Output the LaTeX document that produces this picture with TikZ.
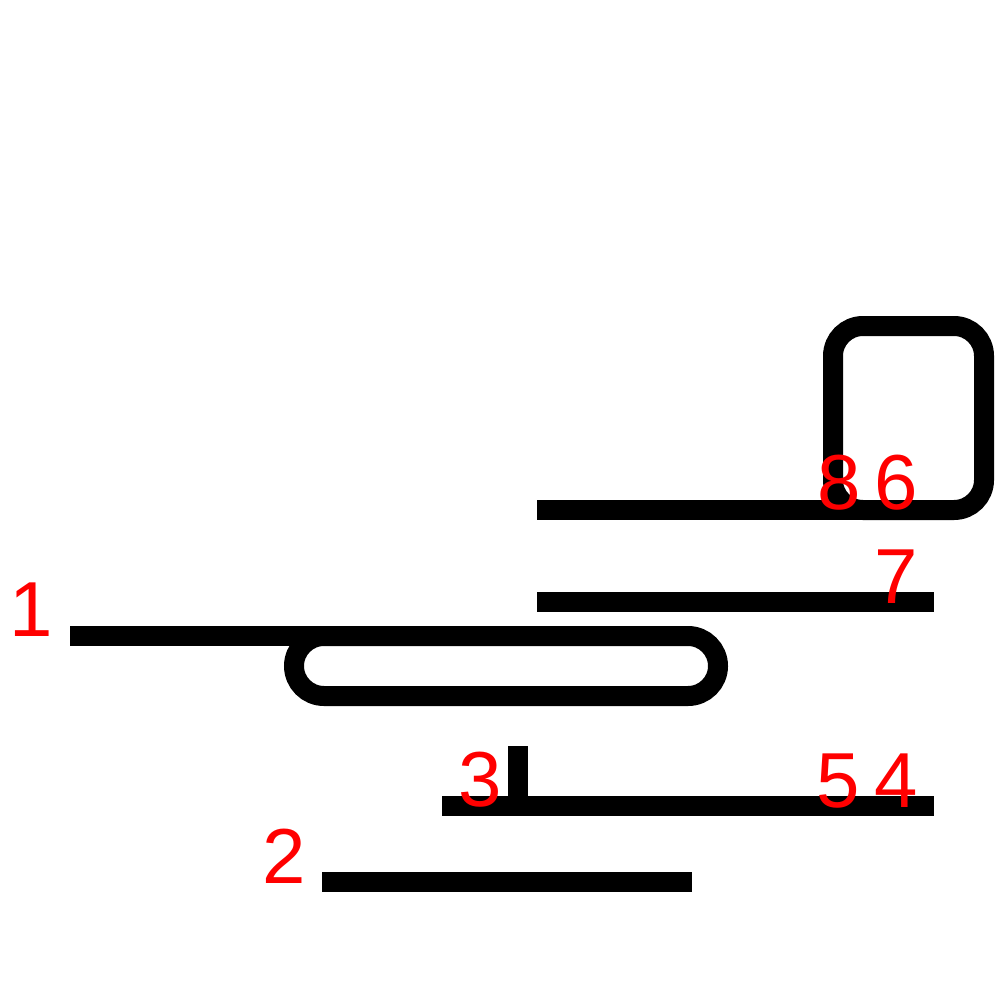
\documentclass[tikz,border=0pt]{standalone}
\usepackage{fontspec}
\setmainfont{Liberation Sans}
\begin{document}
\begin{tikzpicture}[x=1pt,y=-1pt,
  wire/.style={line width=20pt,line cap=butt,black},
  loopwire/.style={wire,rounded corners=30pt},
  lbl/.style={text=red,anchor=base,inner sep=0pt,font=\fontsize{78}{80}\selectfont}]
\useasboundingbox[fill=white] (0,0) rectangle (1000,1000);
% wire 1 with pill loop
\draw[wire] (70,636) -- (500,636);
\draw[loopwire] (294,636) rectangle (718,696);
% wire 8/6 with square loop
\draw[wire] (537,510) -- (900,510);
\draw[loopwire] (833,326) rectangle (984,510);
% wire 7
\draw[wire] (537,602) -- (934,602);
% wire 5/4 with stub
\draw[wire] (442,806) -- (934,806);
\draw[wire] (518,746) -- (518,806);
% wire 2
\draw[wire] (322,882) -- (692,882);
% labels
\node[lbl] (l1) at (31,636) {1};
\node[lbl] (l2) at (284,883) {2};
\node[lbl] (l3) at (480,806) {3};
\node[lbl] (l5) at (838,807) {5};
\node[lbl] (l4) at (896,807) {4};
\node[lbl] (l7) at (896,603) {7};
\node[lbl] (l8) at (839,509) {8};
\node[lbl] (l6) at (896,509) {6};
\end{tikzpicture}
\end{document}
